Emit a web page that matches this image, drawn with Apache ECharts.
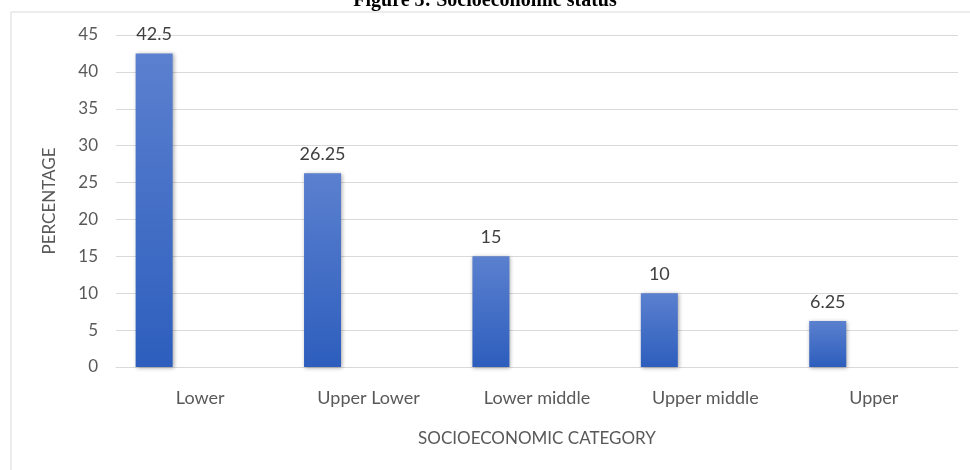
<!DOCTYPE html>
<html>
<head>
    <meta charset="utf-8">
    <title>Socioeconomic status</title>
    <style>
        html, body { margin: 0; padding: 0; background: #fff; }
    </style>
</head>
<body>
<div id="main" style="width: 970px;height:470px;"></div>

<script src="https://cdn.jsdelivr.net/npm/echarts@6/dist/echarts.min.js"></script>
<script>
    // data
    var categories = ['Lower', 'Upper Lower', 'Lower middle', 'Upper middle', 'Upper'];
    var percentages = [42.5, 26.25, 15, 10, 6.25];
    var yTicks = [0, 5, 10, 15, 20, 25, 30, 35, 40, 45];

    var txt = '#595959';
    var chart = echarts.init(document.getElementById('main'));

    chart.setOption({
        animation: false,
        title: {
            text: 'Figure 3: Socioeconomic status',
            left: 'center',
            top: -14,
            textStyle: { fontFamily: 'Liberation Serif', fontWeight: 'bold', fontSize: 20, color: '#000' }
        },
        graphic: [{
            type: 'rect',
            shape: { x: 11, y: 12, width: 970, height: 470 },
            style: { fill: 'none', stroke: '#d9d9d9', lineWidth: 1 },
            z: -1
        }],
        grid: { left: 116, right: 12, top: 35, bottom: 103 },
        xAxis: {
            type: 'category',
            data: categories,
            name: 'SOCIOECONOMIC CATEGORY',
            nameLocation: 'middle',
            nameGap: 63,
            nameTextStyle: { fontFamily: 'Lato', fontSize: 17, color: txt },
            axisLine: { lineStyle: { color: '#d9d9d9' } },
            axisTick: { show: false },
            axisLabel: { fontFamily: 'Lato', fontSize: 18, color: txt, margin: 22 }
        },
        yAxis: {
            type: 'value',
            min: yTicks[0],
            max: yTicks[yTicks.length - 1],
            interval: 5,
            name: 'PERCENTAGE',
            nameLocation: 'middle',
            nameGap: 58,
            nameTextStyle: { fontFamily: 'Lato', fontSize: 17, color: txt },
            axisLine: { show: false },
            axisTick: { show: false },
            axisLabel: { fontFamily: 'Lato', fontSize: 17, color: txt, margin: 18 },
            splitLine: { lineStyle: { color: '#d9d9d9' } }
        },
        series: [
            {
                type: 'bar',
                data: percentages,
                barWidth: 37,
                barGap: '149%',
                itemStyle: {
                    color: new echarts.graphic.LinearGradient(0, 0, 0, 1, [
                        { offset: 0, color: '#5b80cf' },
                        { offset: 1, color: '#2d5ebd' }
                    ]),
                    shadowColor: 'rgba(0,0,0,0.35)',
                    shadowBlur: 4,
                    shadowOffsetX: 1,
                    shadowOffsetY: 1
                },
                label: {
                    show: true,
                    position: 'top',
                    distance: 10,
                    fontFamily: 'Lato',
                    fontSize: 18,
                    color: '#404040'
                }
            },
            {
                // empty companion series, keeps the bars off-centre
                type: 'bar',
                data: categories.map(function () { return '-'; }),
                barWidth: 37
            }
        ]
    });
</script>
</body>
</html>
